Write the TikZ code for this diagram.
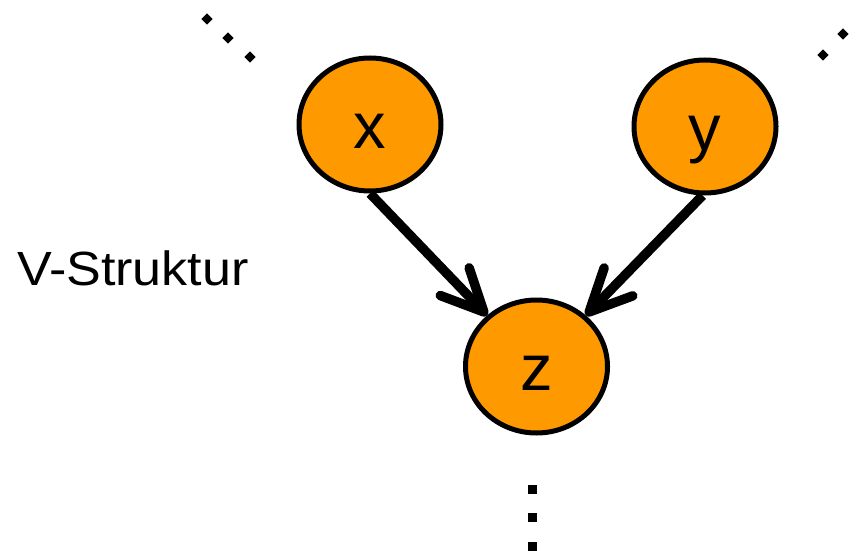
\documentclass[tikz,border=0pt]{standalone}
\usepackage{fontspec}
\setmainfont{Liberation Sans}
\usetikzlibrary{shapes.geometric,arrows.meta}
\definecolor{nodeorange}{RGB}{255,153,0}
\tikzset{
  varnode/.style={ellipse,draw=black,line width=5pt,fill=nodeorange,
    minimum width=142pt,minimum height=133pt,inner sep=0pt,
    font=\fontsize{65}{65}\selectfont,text height=48pt,text depth=0pt},
  thickarrow/.style={line width=9.5pt,-{Straight Barb[length=42pt,width=40pt,round]}},
  diadot/.style={fill=black,draw=none},
}
\begin{document}
\begin{tikzpicture}[x=1pt,y=-1pt]
\useasboundingbox (0,0) rectangle (857,551);
\node[varnode] (x) at (370,124.5) {x};
\node[varnode] (y) at (705,126.5) {y};
\node[varnode] (z) at (536.5,366.5) {z};
\draw[thickarrow] (x.south) -- (z.134);
\draw[thickarrow] (y.-92) -- (z.46);
\node[anchor=base west,inner sep=0pt,font=\fontsize{48}{48}\selectfont] (lbl) at (17,285) {\scalebox{1.085}[1]{V-Struktur}};
% dots
\foreach \cx/\cy in {207/19,228/38,250/57,843/34,823/55,863/13}
  \fill[diadot] (\cx,\cy-5.6) -- (\cx+5.6,\cy) -- (\cx,\cy+5.6) -- (\cx-5.6,\cy) -- cycle;
\foreach \cy in {489,517,546}
  \fill[diadot] (532-4.5,\cy-4.5) rectangle (532+4.5,\cy+4.5);
\end{tikzpicture}
\end{document}
